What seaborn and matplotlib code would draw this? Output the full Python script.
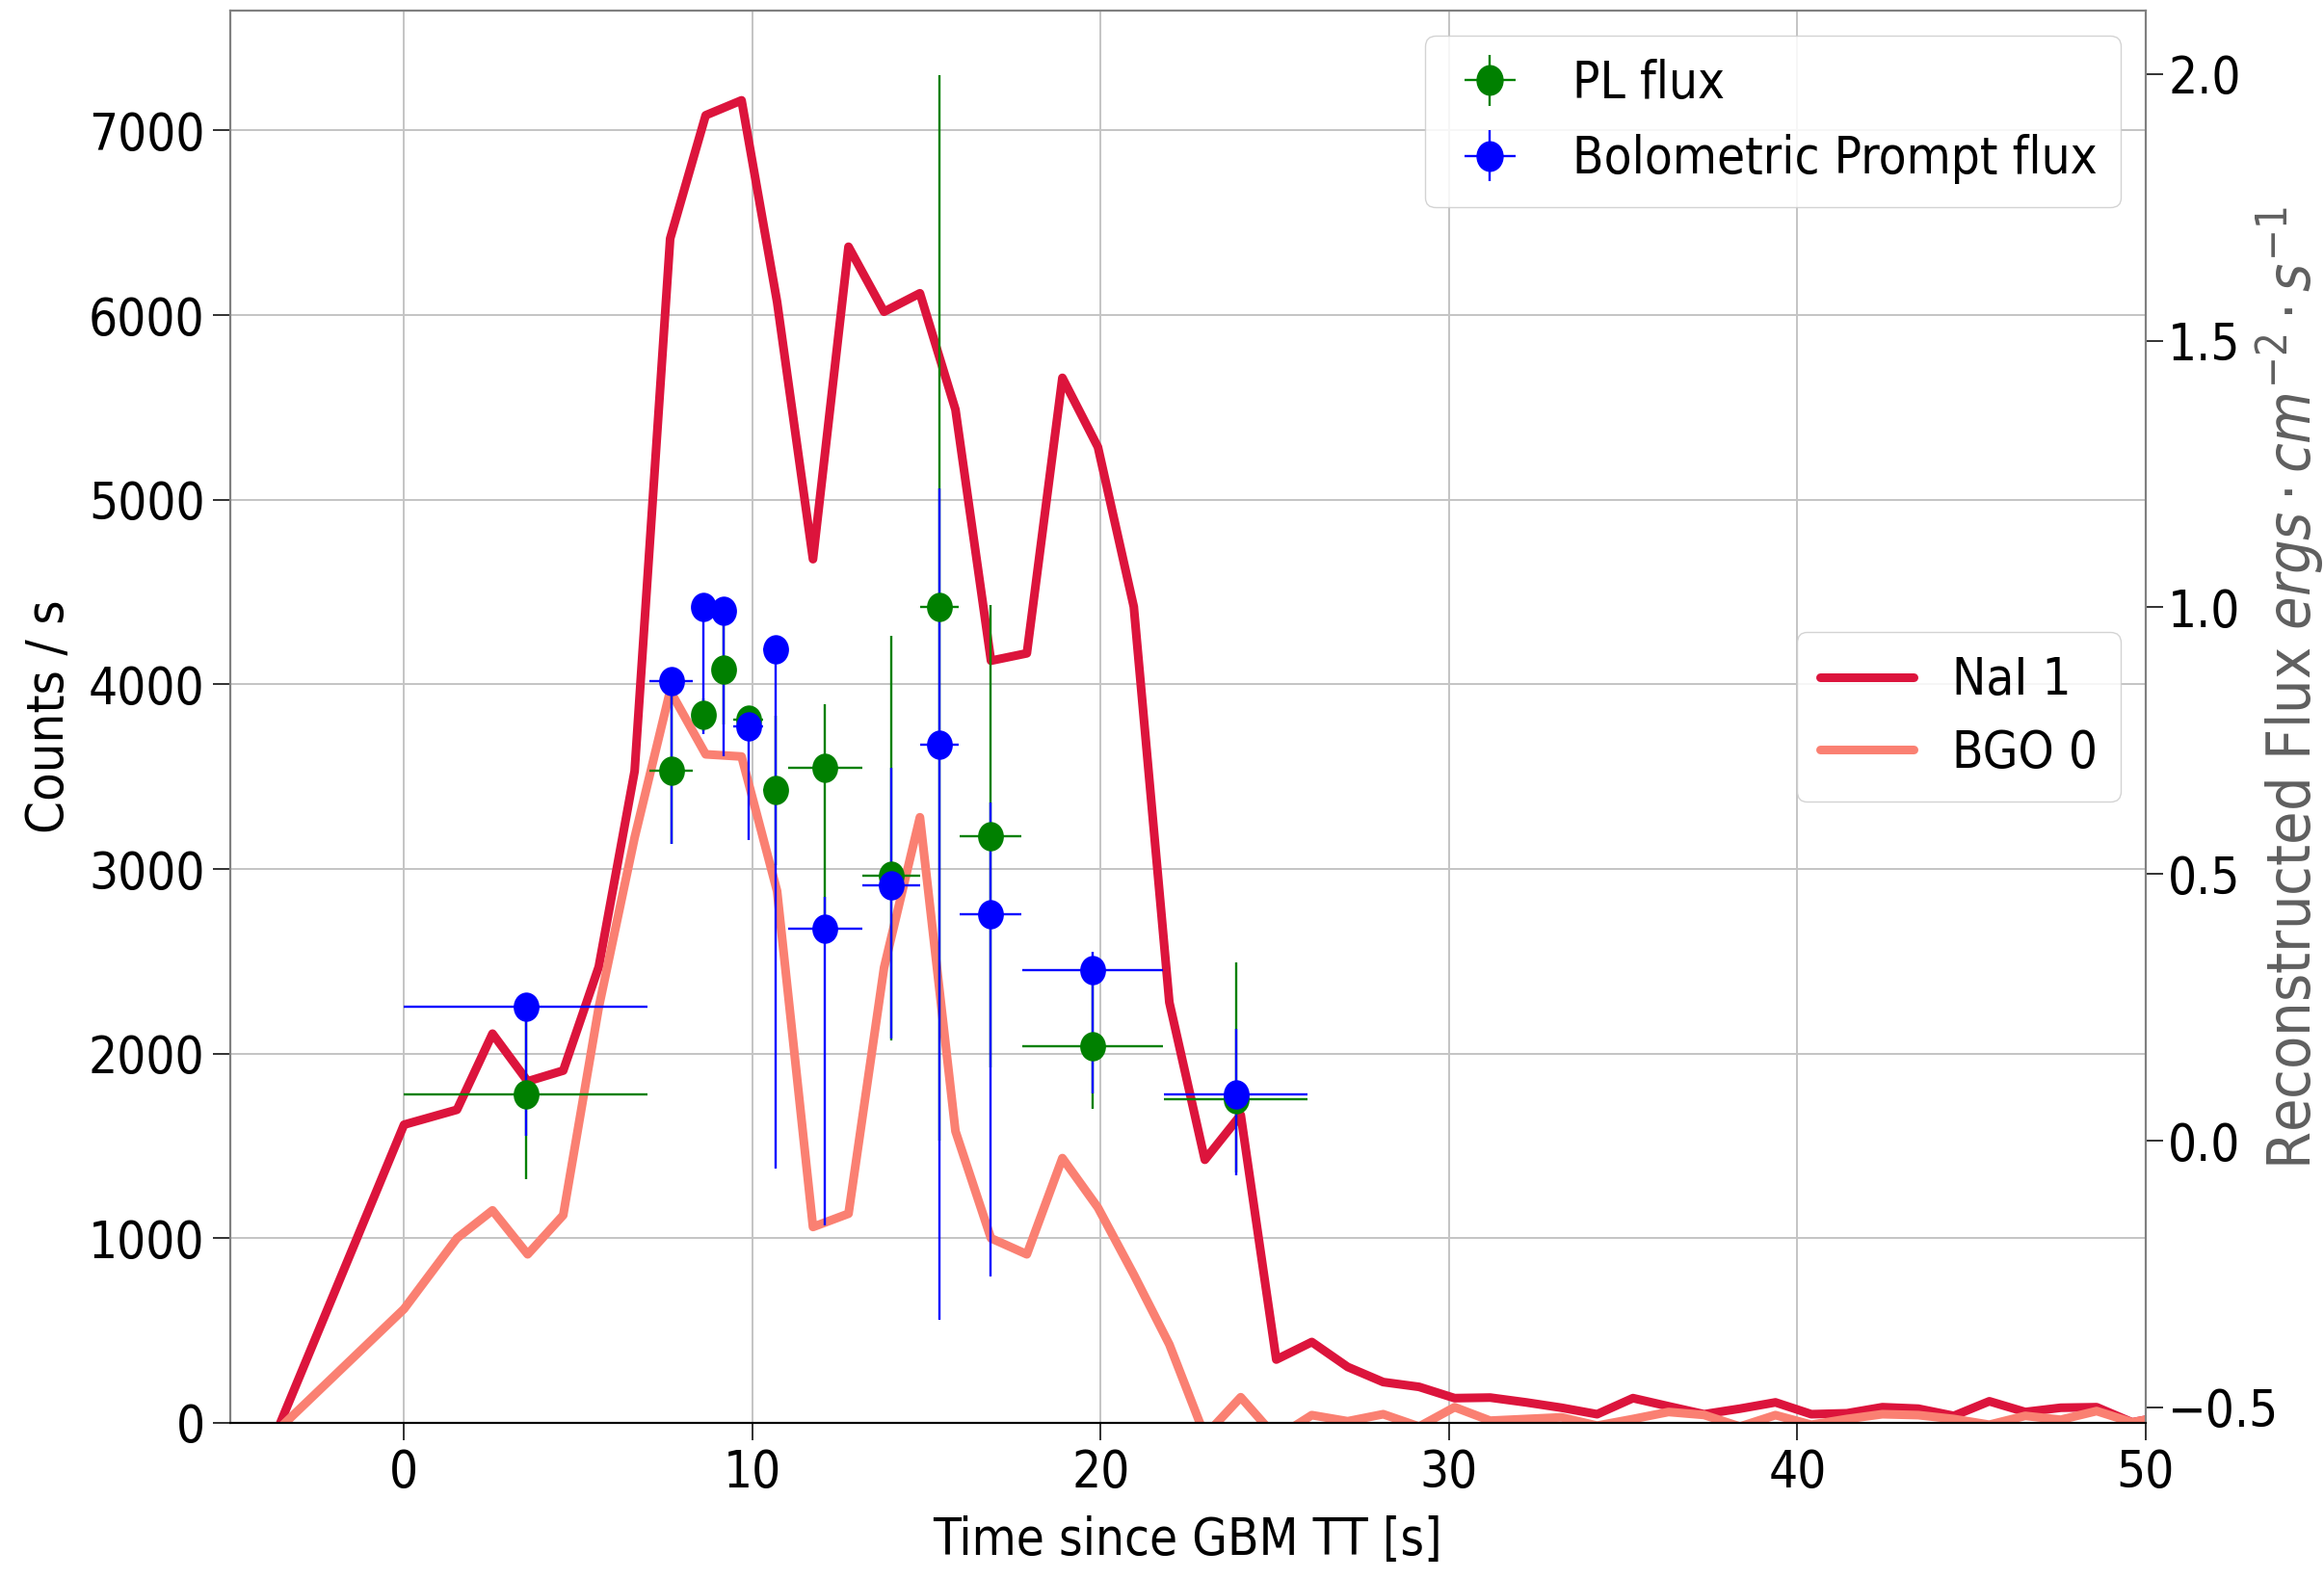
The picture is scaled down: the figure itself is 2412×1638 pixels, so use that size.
import numpy as np
import pandas as pd
import matplotlib
matplotlib.use("Agg")
import matplotlib.pyplot as plt
import seaborn as sns
from matplotlib import font_manager
from matplotlib.path import Path
from matplotlib.transforms import Affine2D

# ---------------- data ----------------
time_s = [-3.55, 0.0, 1.52, 2.54, 3.55, 4.57, 5.59, 6.62, 7.64, 8.66, 9.69, 10.71,
          11.74, 12.76, 13.78, 14.81, 15.83, 16.85, 17.88, 18.90, 19.92, 20.95,
          21.97, 22.99, 24.02, 25.04, 26.06, 27.09, 28.11, 29.14, 30.16, 31.18,
          32.21, 33.23, 34.25, 35.28, 36.30, 37.32, 38.35, 39.37, 40.40, 41.42,
          42.44, 43.47, 44.49, 45.51, 46.54, 47.56, 48.59, 49.61, 50.63]
nai1_counts = [0, 1615, 1696, 2108, 1850, 1908, 2470, 3530, 6414, 7082, 7163, 6071,
               4678, 6370, 6018, 6118, 5488, 4128, 4168, 5660, 5285, 4420,
               2278, 1425, 1668, 343, 438, 303, 221, 195, 134, 137,
               111, 82, 47, 134, 90, 47, 77, 111, 47, 52,
               85, 77, 38, 117, 59, 82, 85, 3, 40]
bgo0_counts = [-25, 617, 1000, 1151, 913, 1125, 2250, 3170, 3965, 3621, 3609, 2880,
               1061, 1133, 2465, 3280, 1580, 1000, 913, 1434, 1166, 803,
               425, -70, 139, -80, 42, 9, 47, -20, 85, 12,
               21, 30, -15, 21, 59, 43, -20, 42, -10, 21,
               47, 42, 21, -10, 38, 17, 64, 3, 38]

flux_t = [3.50, 7.67, 8.59, 9.17, 9.88, 10.66, 12.09, 13.98, 15.37, 16.84, 19.77, 23.88]
flux_terr = [3.50, 0.62, 0.30, 0.28, 0.43, 0.35, 1.06, 0.83, 0.54, 0.89, 2.03, 2.06]

pl_flux = [0.087, 0.694, 0.798, 0.884, 0.789, 0.657, 0.699, 0.496, 1.001, 0.571, 0.177, 0.078]
pl_err_lo = [0.159, 0.138, 0.031, 0.104, 0.017, 0.140, 0.310, 0.308, 1.000, 0.433, 0.118, 0.138]
pl_err_hi = [0.159, 0.138, 0.031, 0.104, 0.017, 0.140, 0.120, 0.450, 0.997, 0.433, 0.118, 0.257]

bol_flux = [0.252, 0.861, 1.000, 0.994, 0.777, 0.922, 0.398, 0.479, 0.743, 0.425, 0.319, 0.086]
bol_err_lo = [0.243, 0.304, 0.237, 0.274, 0.214, 0.975, 0.556, 0.288, 1.078, 0.680, 0.231, 0.151]
bol_err_hi = [0.025, 0.020, 0.020, 0.020, 0.010, 0.020, 0.059, 0.220, 0.480, 0.209, 0.036, 0.124]

x_ticks = [0, 10, 20, 30, 40, 50]
left_ticks = [0, 1000, 2000, 3000, 4000, 5000, 6000, 7000]
right_ticks = [-0.5, 0.0, 0.5, 1.0, 1.5, 2.0]
right_tick_labels = ['\u22120.5', '0.0', '0.5', '1.0', '1.5', '2.0']

# ---------------- style ----------------
sns.set_style("whitegrid")

fl = font_manager.fontManager.ttflist
def has(name, stretch=None):
    return any(f.name == name and f.style == 'normal' and
               (stretch is None or f.stretch == stretch) for f in fl)

if has('DejaVu Sans', 'condensed'):
    fam, stretch = 'DejaVu Sans', 'condensed'
elif has('Liberation Sans Narrow'):
    fam, stretch = 'Liberation Sans Narrow', 'normal'
else:
    fam, stretch = 'DejaVu Sans', 'normal'

plt.rcParams['font.family'] = [fam, 'DejaVu Sans']
plt.rcParams['font.stretch'] = stretch
plt.rcParams['mathtext.fontset'] = 'custom'
sfx = ':stretch=condensed' if stretch == 'condensed' else ''
plt.rcParams['mathtext.it'] = fam + ':italic' + sfx
plt.rcParams['mathtext.rm'] = fam + sfx
plt.rcParams['mathtext.sf'] = fam + sfx
plt.rcParams['grid.color'] = '#c4c4c4'
plt.rcParams['grid.linewidth'] = 1.4
for k in ['text.color', 'axes.labelcolor', 'xtick.labelcolor', 'ytick.labelcolor']:
    plt.rcParams[k] = 'black'

fs_tick, fs_xlab, fs_ylab, fs_rlab, fs_leg = 38, 38, 39, 45, 38

fig = plt.figure(figsize=(24.12, 16.38), dpi=100)
ax = fig.add_axes([0.0989, 0.0983, 0.9233 - 0.0989, 0.9934 - 0.0983])

df = pd.DataFrame({'t': time_s, 'NaI 1': nai1_counts, 'BGO 0': bgo0_counts})
sns.lineplot(data=df, x='t', y='NaI 1', ax=ax, color='#DC143C', lw=6.5,
             label='NaI 1', sort=False, estimator=None)
sns.lineplot(data=df, x='t', y='BGO 0', ax=ax, color='#FA8072', lw=6.5,
             label='BGO 0', sort=False, estimator=None)

ax.set_xlim(-5, 50)
ax.set_ylim(0, 7650)
ax.set_xticks(x_ticks)
ax.set_yticks(left_ticks)
ax.set_xlabel('Time since GBM TT [s]', fontsize=fs_xlab, labelpad=13)
ax.set_ylabel('Counts / s', fontsize=fs_ylab)
ax.yaxis.set_label_coords(-0.081, 0.5)
ax.tick_params(axis='x', which='major', length=12.7, width=1.3, pad=6,
               labelsize=fs_tick, color='#222222', bottom=True)
ax.tick_params(axis='y', which='major', length=12.7, width=1.3, pad=6,
               labelsize=fs_tick, color='#222222', left=True)
ax.grid(True)

ax2 = ax.twinx()
ax2.grid(False)
ell = Path.unit_circle().transformed(Affine2D().scale(0.88, 1.0))
ax2.errorbar(flux_t, pl_flux, xerr=flux_terr, yerr=[pl_err_lo, pl_err_hi],
             fmt='none', ecolor='green', elinewidth=1.7, capsize=0, zorder=3)
ax2.errorbar(flux_t, bol_flux, xerr=flux_terr, yerr=[bol_err_lo, bol_err_hi],
             fmt='none', ecolor='blue', elinewidth=1.7, capsize=0, zorder=4)
sns.scatterplot(x=flux_t, y=pl_flux, ax=ax2, color='green', marker=ell, s=480,
                linewidth=0, zorder=5)
sns.scatterplot(x=flux_t, y=bol_flux, ax=ax2, color='blue', marker=ell, s=480,
                linewidth=0, zorder=6)
ax2.set_ylim(-0.529, 2.119)
ax2.set_yticks(right_ticks)
ax2.set_yticklabels(right_tick_labels, fontsize=fs_tick)
ax2.tick_params(axis='y', length=12.7, width=1.3, pad=4, color='#222222', right=True)
ax2.set_ylabel(r'Reconstructed Flux $ergs \cdot cm^{-2} \cdot s^{-1}$',
               fontsize=fs_rlab, color='#5f5f5f')
ax2.yaxis.set_label_coords(1.0565, 0.52)

# legends
h_pl = ax2.errorbar([np.nan], [np.nan], xerr=[1], yerr=[1], marker=ell, linestyle='none',
                    color='green', ms=22, elinewidth=1.7, label='PL flux')
h_bol = ax2.errorbar([np.nan], [np.nan], xerr=[1], yerr=[1], marker=ell, linestyle='none',
                     color='blue', ms=22, elinewidth=1.7, label='Bolometric Prompt flux')
leg1 = ax2.legend(handles=[h_pl, h_bol], loc='upper right', fontsize=fs_leg,
                  frameon=True, framealpha=0.85, edgecolor='#cccccc',
                  handlelength=1.65, handletextpad=0.8, borderpad=0.45,
                  labelspacing=0.5)

leg2 = ax.legend(loc='center right', fontsize=fs_leg, frameon=True, framealpha=0.85,
                 edgecolor='#cccccc', handlelength=1.85, handletextpad=0.75,
                 borderpad=0.45, labelspacing=0.45)
for ln in leg2.get_lines():
    ln.set_linewidth(6.5)

for a in (ax, ax2):
    a.spines['bottom'].set_color('black')
    for side in ['left', 'right', 'top']:
        a.spines[side].set_color('#808080')
    for s in a.spines.values():
        s.set_linewidth(1.5)

fig.savefig('out.png', dpi=100)
